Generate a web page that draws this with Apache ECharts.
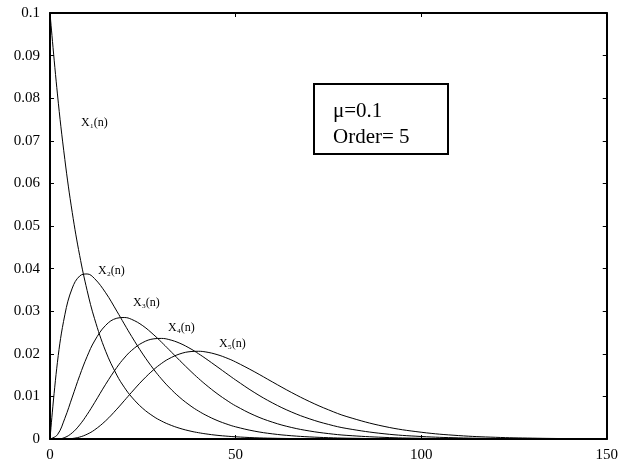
<!DOCTYPE html>
<html>
<head>
<meta charset="utf-8">
<script src="https://cdn.jsdelivr.net/npm/echarts@6/dist/echarts.min.js"></script>
<style>
  html, body { margin: 0; padding: 0; background: #fff; }
  #chart { width: 621px; height: 464px; }
</style>
</head>
<body>
<div id="chart"></div>
<script>
// sample positions n
const nVals = [0, 2, 4, 6, 8, 10, 12, 15, 18, 20, 22, 25, 28, 30, 32, 35, 38, 40, 42, 45, 48, 50,
  55, 60, 65, 70, 75, 80, 90, 100, 110, 120, 130, 140, 150];

const x1 = [0.1, 0.081, 0.06561, 0.05314, 0.04305, 0.03487, 0.02824, 0.02059, 0.01501, 0.01216, 0.00985,
  0.00718, 0.00523, 0.00424, 0.00343, 0.00250, 0.00182, 0.00148, 0.00120, 0.00087, 0.00064, 0.00052,
  0.00030, 0.00018, 0.00011, 0.00006, 0.00004, 0.00002, 0.00001, 0, 0, 0, 0, 0, 0];
const x2 = [0, 0.018, 0.02916, 0.03543, 0.03826, 0.03874, 0.03766, 0.03432, 0.03002, 0.02702, 0.02407,
  0.01994, 0.01628, 0.01413, 0.01221, 0.00973, 0.00770, 0.00657, 0.00559, 0.00436, 0.00339, 0.00286,
  0.00186, 0.00120, 0.00077, 0.00049, 0.00031, 0.00019, 0.00008, 0.00003, 0.00001, 0, 0, 0, 0];
const x3 = [0, 0.001, 0.00486, 0.00984, 0.01488, 0.01937, 0.02301, 0.02669, 0.02835, 0.02852, 0.02808,
  0.02659, 0.02442, 0.02277, 0.02103, 0.01839, 0.01584, 0.01423, 0.01273, 0.01067, 0.00886, 0.00779,
  0.00558, 0.00393, 0.00272, 0.00187, 0.00127, 0.00085, 0.00038, 0.00016, 0.00007, 0.00003, 0.00001, 0, 0];
const x4 = [0, 0, 0.00036, 0.00146, 0.00331, 0.00574, 0.00852, 0.01285, 0.01680, 0.01901, 0.02080,
  0.02265, 0.02352, 0.02361, 0.02336, 0.02247, 0.02112, 0.02003, 0.01885, 0.01699, 0.01510, 0.01386,
  0.01095, 0.00844, 0.00636, 0.00471, 0.00343, 0.00246, 0.00123, 0.00059, 0.00027, 0.00012, 0.00006, 0.00002, 0.00001];
const x5 = [0, 0, 0.00001, 0.00012, 0.00046, 0.00112, 0.00213, 0.00428, 0.00700, 0.00898, 0.01098,
  0.01384, 0.01633, 0.01771, 0.01882, 0.01998, 0.02053, 0.02059, 0.02043, 0.01982, 0.01887, 0.01809,
  0.01582, 0.01336, 0.01095, 0.00876, 0.00686, 0.00525, 0.00296, 0.00159, 0.00081, 0.00040, 0.00020, 0.00009, 0.00004];

const seriesData = [x1, x2, x3, x4, x5];
const curveLabels = ['X\u2081(n)', 'X\u2082(n)', 'X\u2083(n)', 'X\u2084(n)', 'X\u2085(n)'];

const serif = "'Liberation Serif', 'Times New Roman', serif";
const chart = echarts.init(document.getElementById('chart'));

const axisLine = { show: true, onZero: false, lineStyle: { color: '#000', width: 2 } };
const tickIn = { show: true, inside: true, length: 4, lineStyle: { color: '#000', width: 1 } };

const txt = (text, left, top, size, z) => ({
  type: 'text', left: left, top: top, z: z || 5,
  style: { text: text, fontFamily: serif, fontSize: size, fill: '#000' }
});

const option = {
  animation: false,
  backgroundColor: '#fff',
  textStyle: { fontFamily: serif },
  grid: { left: 50, right: 14, top: 13, bottom: 25 },
  xAxis: [
    {
      type: 'value', min: 0, max: 150, interval: 50,
      axisLine: axisLine, axisTick: tickIn, splitLine: { show: false },
      axisLabel: { color: '#000', fontFamily: serif, fontSize: 15, margin: 9 }
    },
    {
      type: 'value', position: 'top', min: 0, max: 150, interval: 50,
      axisLine: axisLine, axisTick: tickIn, splitLine: { show: false },
      axisLabel: { show: false }
    }
  ],
  yAxis: [
    {
      type: 'value', min: 0, max: 0.1, interval: 0.01,
      axisLine: axisLine, axisTick: tickIn, splitLine: { show: false },
      axisLabel: { color: '#000', fontFamily: serif, fontSize: 15, margin: 10 }
    },
    {
      type: 'value', position: 'right', min: 0, max: 0.1, interval: 0.01,
      axisLine: axisLine, axisTick: tickIn, splitLine: { show: false },
      axisLabel: { show: false }
    }
  ],
  series: seriesData.map((arr, i) => ({
    name: curveLabels[i],
    type: 'line',
    smooth: 0.4,
    symbol: 'none',
    lineStyle: { color: '#000', width: 1 },
    data: nVals.map((n, j) => [n, arr[j]])
  })),
  graphic: [
    {
      type: 'rect', left: 313, top: 83, z: 10,
      shape: { width: 134, height: 70 },
      style: { fill: '#fff', stroke: '#000', lineWidth: 2 }
    },
    txt('\u03bc=0.1', 333, 101, 21, 11),
    txt('Order= 5', 333, 127, 21, 11),
    txt(curveLabels[0], 81, 117, 12),
    txt(curveLabels[1], 98, 265, 12),
    txt(curveLabels[2], 133, 297, 12),
    txt(curveLabels[3], 168, 322, 12),
    txt(curveLabels[4], 219, 338, 12)
  ]
};

chart.setOption(option);
</script>
</body>
</html>
